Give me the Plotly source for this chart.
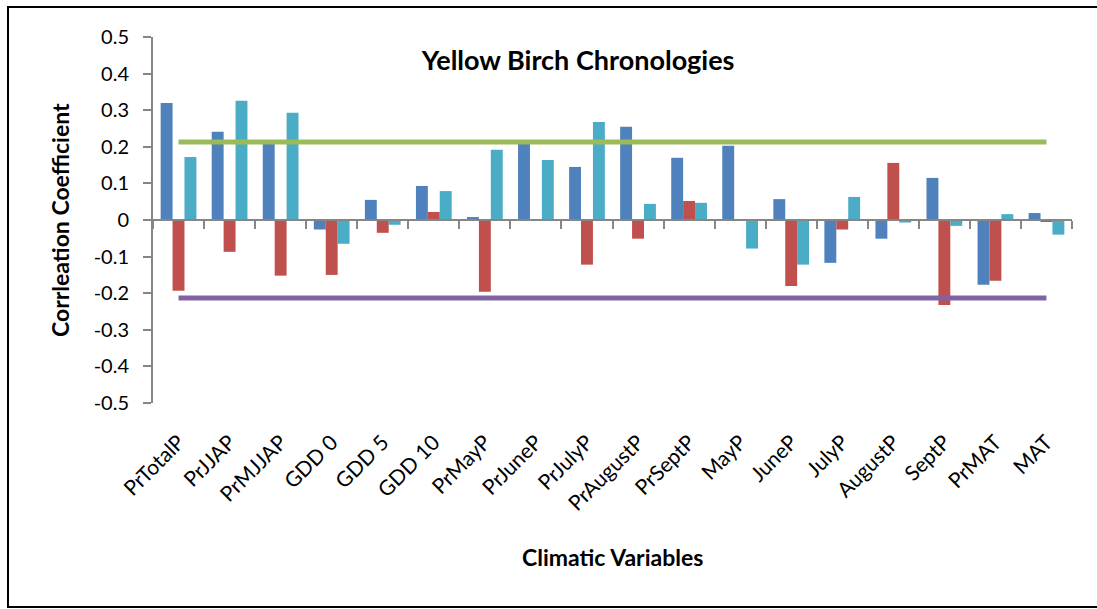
import plotly.graph_objects as go

# Climatic variables on the x axis
categories = ["PrTotalP", "PrJJAP", "PrMJJAP", "GDD 0", "GDD 5", "GDD 10",
              "PrMayP", "PrJuneP", "PrJulyP", "PrAugustP", "PrSeptP", "MayP",
              "JuneP", "JulyP", "AugustP", "SeptP", "PrMAT", "MAT"]

# Correlation coefficients of the three chronologies
series_blue = [0.320, 0.241, 0.208, -0.026, 0.055, 0.093, 0.008, 0.210, 0.145,
               0.255, 0.170, 0.203, 0.057, -0.117, -0.051, 0.115, -0.177, 0.019]
series_red = [-0.193, -0.087, -0.152, -0.150, -0.035, 0.022, -0.196, 0.002, -0.122,
              -0.051, 0.052, 0.002, -0.180, -0.026, 0.156, -0.232, -0.166, -0.005]
series_cyan = [0.172, 0.326, 0.293, -0.065, -0.013, 0.079, 0.192, 0.164, 0.268,
               0.044, 0.047, -0.078, -0.122, 0.063, -0.007, -0.016, 0.016, -0.040]

# Significance thresholds
sig_upper = 0.213
sig_lower = -0.213
upper_line = [sig_upper] * len(categories)
lower_line = [sig_lower] * len(categories)

# Y axis ticks
ytick_vals = [-0.5, -0.4, -0.3, -0.2, -0.1, 0.0, 0.1, 0.2, 0.3, 0.4, 0.5]
ytick_text = ["-0.5", "-0.4", "-0.3", "-0.2", "-0.1", "0", "0.1", "0.2", "0.3", "0.4", "0.5"]

FONT = "Lato"
AXIS_GREY = "#868686"

fig = go.Figure()
for vals, color in [(series_blue, "#4F81BD"), (series_red, "#C0504D"), (series_cyan, "#4BACC6")]:
    fig.add_trace(go.Bar(x=categories, y=vals, marker=dict(color=color, line=dict(width=0)),
                         xaxis="x", yaxis="y"))

fig.add_trace(go.Scatter(x=categories, y=upper_line, mode="lines",
                         line=dict(color="#9BBB59", width=5), xaxis="x2", yaxis="y"))
fig.add_trace(go.Scatter(x=categories, y=lower_line, mode="lines",
                         line=dict(color="#8064A2", width=5), xaxis="x2", yaxis="y"))

# plot area in pixels: x 153..1072, y 37..403
fig.update_layout(
    width=1097, height=609,
    margin=dict(l=153, r=25, t=37, b=206),
    paper_bgcolor="white", plot_bgcolor="white",
    showlegend=False,
    barmode="group", bargap=0.3, bargroupgap=0,
    font=dict(family=FONT, color="black"),
    title=dict(text="<b>Yellow Birch Chronologies</b>", x=0.527, xanchor="center",
               y=1 - 61 / 609, yanchor="middle", font=dict(size=27, family=FONT)),
    xaxis=dict(type="category", range=[-0.5, 17.5], showline=False, ticks="",
               tickangle=-45, tickfont=dict(size=21), ticklabelstandoff=22,
               showgrid=False, zeroline=False, domain=[0, 1]),
    xaxis2=dict(type="category", matches="x", overlaying="x", anchor="free", position=0.5,
                range=[-0.5, 17.5], showline=True, linecolor=AXIS_GREY, linewidth=2,
                ticks="outside", tickson="boundaries", ticklen=8, tickwidth=2,
                tickcolor=AXIS_GREY, showticklabels=False, showgrid=False, zeroline=False,
                side="bottom"),
    yaxis=dict(range=[-0.5, 0.5], tickvals=ytick_vals, ticktext=ytick_text,
               showline=True, linecolor=AXIS_GREY, linewidth=2, ticks="outside",
               ticklen=8, tickwidth=2, tickcolor=AXIS_GREY, tickfont=dict(size=20),
               ticklabelstandoff=10, showgrid=False, zeroline=False),
    annotations=[
        dict(text="<b>Corrleation Coefficient</b>", xref="paper", yref="paper",
             x=(60 - 153) / 919, y=0.5, textangle=-90, showarrow=False,
             font=dict(size=23, family=FONT), xanchor="center", yanchor="middle"),
        dict(text="<b>Climatic Variables</b>", xref="paper", yref="paper",
             x=0.5, y=(403 - 557) / 366, showarrow=False,
             font=dict(size=23, family=FONT), xanchor="center", yanchor="middle"),
    ],
    shapes=[
        dict(type="rect", xref="paper", yref="paper",
             x0=(8 - 153) / 919, x1=(1102 - 153) / 919,
             y0=(403 - 607) / 366, y1=(403 - 7) / 366,
             line=dict(color="black", width=2), fillcolor="rgba(0,0,0,0)", layer="below"),
    ],
)

fig.write_html("out.html")
